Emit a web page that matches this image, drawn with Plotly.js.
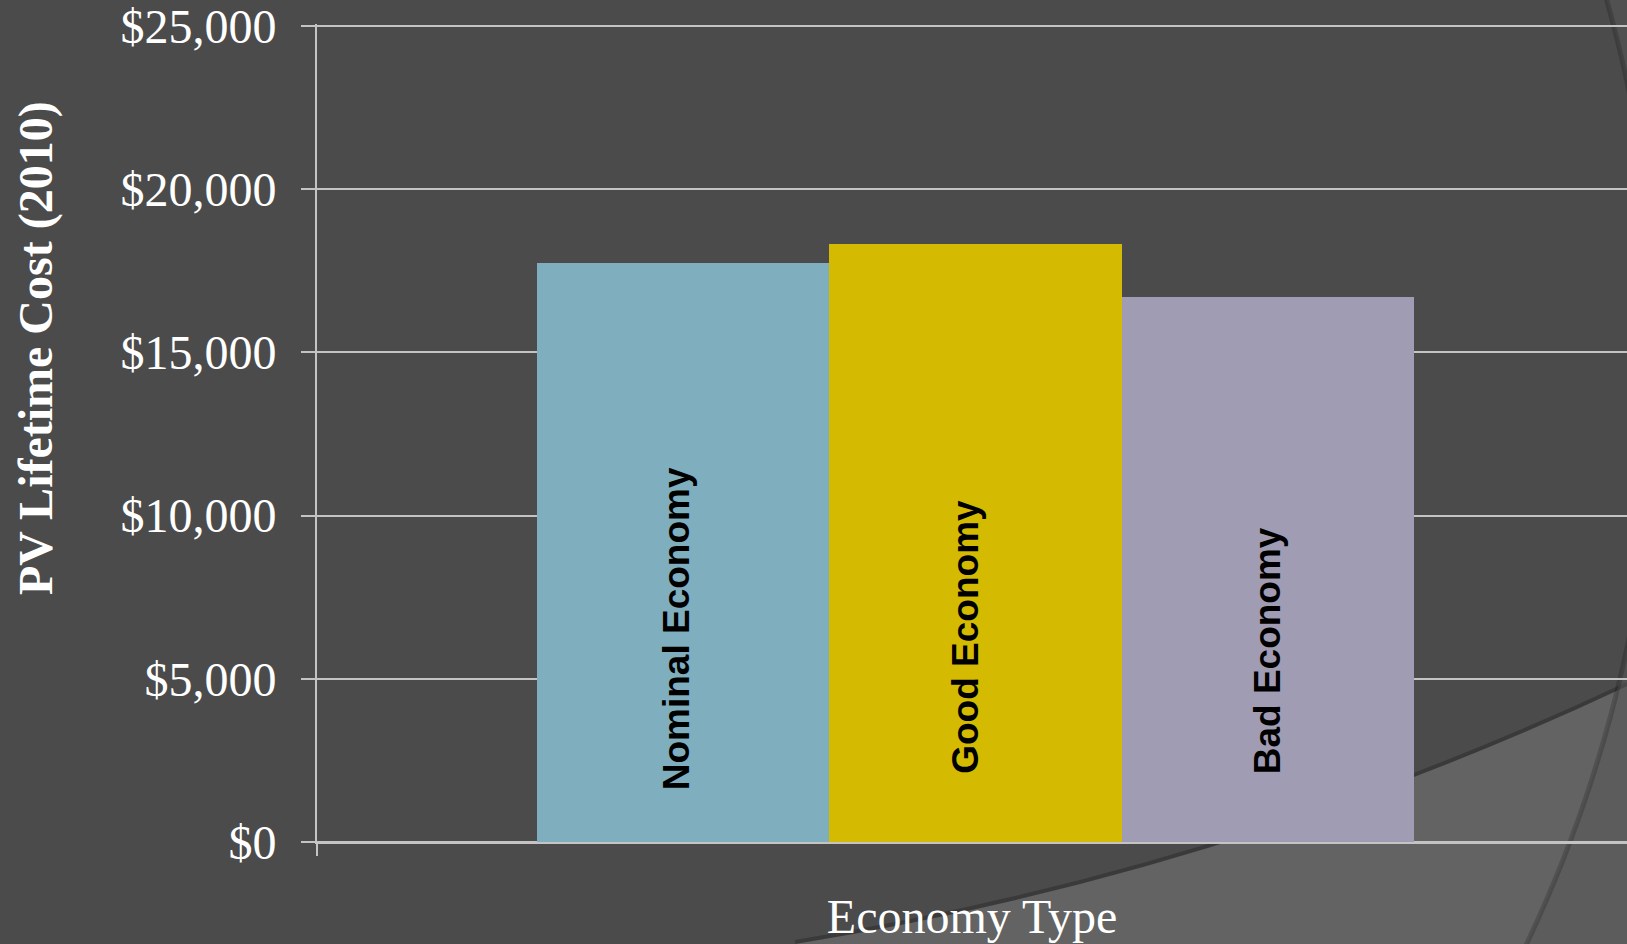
<!DOCTYPE html>
<html>
<head>
<meta charset="utf-8">
<script src="https://cdn.plot.ly/plotly-3.0.1.min.js"></script>
<style>html,body{margin:0;padding:0;background:#4B4B4B;}#chart{width:1627px;height:944px;}</style>
</head>
<body>
<div id="chart"></div>
<script>
// ---- data ----
const categories = ['Nominal Economy', 'Good Economy', 'Bad Economy'];
const lifetimeCost = [17740, 18320, 16700];
const barColors = ['#7FAFBE', '#D4BA00', '#A09CB3'];
const yTickVals = [0, 5000, 10000, 15000, 20000, 25000];
const yTickText = ['$0', '$5,000', '$10,000', '$15,000', '$20,000', '$25,000'];
const xTitle = 'Economy Type';
const yTitle = 'PV Lifetime Cost (2010)';

// ---- layout geometry (page pixels) ----
const W = 1627, H = 944;
const M = {l: 317, r: 0, t: 24, b: 102};
const PW = W - M.l - M.r, PH = H - M.t - M.b;
const px = x => (x - M.l) / PW;          // page x -> paper x
const py = y => (H - M.b - y) / PH;       // page y -> paper y
const P = (x, y) => px(x).toFixed(5) + ',' + py(y).toFixed(5);

// decorative background (slide theme)
const lightRegion = 'M' + P(1627, 686) + ' Q' + P(1230, 873) + ' ' + P(795, 944) +
                    ' L' + P(795, 1000) + ' L' + P(1627, 1000) + ' Z';
const curveEdge = 'M' + P(1627, 684) + ' Q' + P(1230, 871) + ' ' + P(795, 942);
// big circle arc of the slide theme
const cx = 307, cy = 365, R = 1350;
let arcPts = [];
for (let yy = -20; yy <= 980; yy += 20) {
  const xx = cx + Math.sqrt(R * R - (yy - cy) * (yy - cy));
  arcPts.push([xx, yy]);
}
let outside = 'M' + P(arcPts[0][0], arcPts[0][1]);
let arcLine = 'M' + P(arcPts[0][0], arcPts[0][1]);
for (let i = 1; i < arcPts.length; i++) {
  outside += ' L' + P(arcPts[i][0], arcPts[i][1]);
  arcLine += ' L' + P(arcPts[i][0], arcPts[i][1]);
}
outside += ' L' + P(1700, 980) + ' L' + P(1700, -20) + ' Z';

const gridCol = '#C4C4C4';

const trace = {
  type: 'bar',
  x: categories,
  y: lifetimeCost,
  marker: {color: barColors, line: {width: 0}},
  hoverinfo: 'x+y'
};

const labelMid = [6541, 6296, 5867];
const labelShift = [-6, -10, 0];
const annotations = categories.map((c, i) => ({
  x: c, y: labelMid[i], xref: 'x', yref: 'y', xshift: labelShift[i],
  text: c, textangle: -90, showarrow: false,
  xanchor: 'center', yanchor: 'middle',
  font: {family: 'Liberation Sans, Arial, sans-serif', size: 37, color: '#000000', weight: 'bold'}
}));
annotations.push({
  x: px(36), y: py(348), xref: 'paper', yref: 'paper',
  text: yTitle, textangle: -90, showarrow: false,
  xanchor: 'center', yanchor: 'middle',
  font: {family: 'Liberation Serif, Times New Roman, serif', size: 48, color: '#FFFFFF', weight: 'bold'}
});

const layout = {
  width: W, height: H,
  margin: {l: M.l, r: M.r, t: M.t, b: M.b, pad: 0},
  paper_bgcolor: '#4B4B4B',
  plot_bgcolor: 'rgba(0,0,0,0)',
  showlegend: false,
  bargap: 0,
  xaxis: {
    type: 'category',
    range: [-1.2504, 3.228],
    showticklabels: false,
    ticks: '',
    showgrid: false,
    zeroline: false,
    showline: true, linecolor: gridCol, linewidth: 2,
    title: {text: xTitle, standoff: 56,
            font: {family: 'Liberation Serif, Times New Roman, serif', size: 48, color: '#FFFFFF'}}
  },
  yaxis: {
    range: [0, 25060],
    tickvals: yTickVals, ticktext: yTickText,
    tickfont: {family: 'Liberation Serif, Times New Roman, serif', size: 48, color: '#FFFFFF'},
    ticks: 'outside', ticklen: 14, tickwidth: 2, tickcolor: gridCol,
    ticklabelstandoff: 15,
    ticklabeloverflow: 'allow',
    showline: true, linecolor: gridCol, linewidth: 2,
    showgrid: true, gridcolor: gridCol, gridwidth: 2,
    zeroline: true, zerolinecolor: gridCol, zerolinewidth: 2
  },
  shapes: [
    {type: 'path', xref: 'paper', yref: 'paper', layer: 'below', path: lightRegion,
     fillcolor: '#636363', line: {width: 0}},
    {type: 'path', xref: 'paper', yref: 'paper', layer: 'below', path: curveEdge,
     line: {color: 'rgba(0,0,0,0.22)', width: 4}},
    {type: 'path', xref: 'paper', yref: 'paper', layer: 'below', path: outside,
     fillcolor: 'rgba(88,88,88,0.55)', line: {width: 0}},
    {type: 'path', xref: 'paper', yref: 'paper', layer: 'below', path: arcLine,
     line: {color: 'rgba(0,0,0,0.18)', width: 5}},
    {type: 'line', xref: 'paper', yref: 'paper', layer: 'above',
     x0: 0, x1: 0, y0: 0, y1: -14 / PH, line: {color: gridCol, width: 2}}
  ],
  annotations: annotations
};

Plotly.newPlot('chart', [trace], layout, {displayModeBar: false, responsive: false});
</script>
</body>
</html>
